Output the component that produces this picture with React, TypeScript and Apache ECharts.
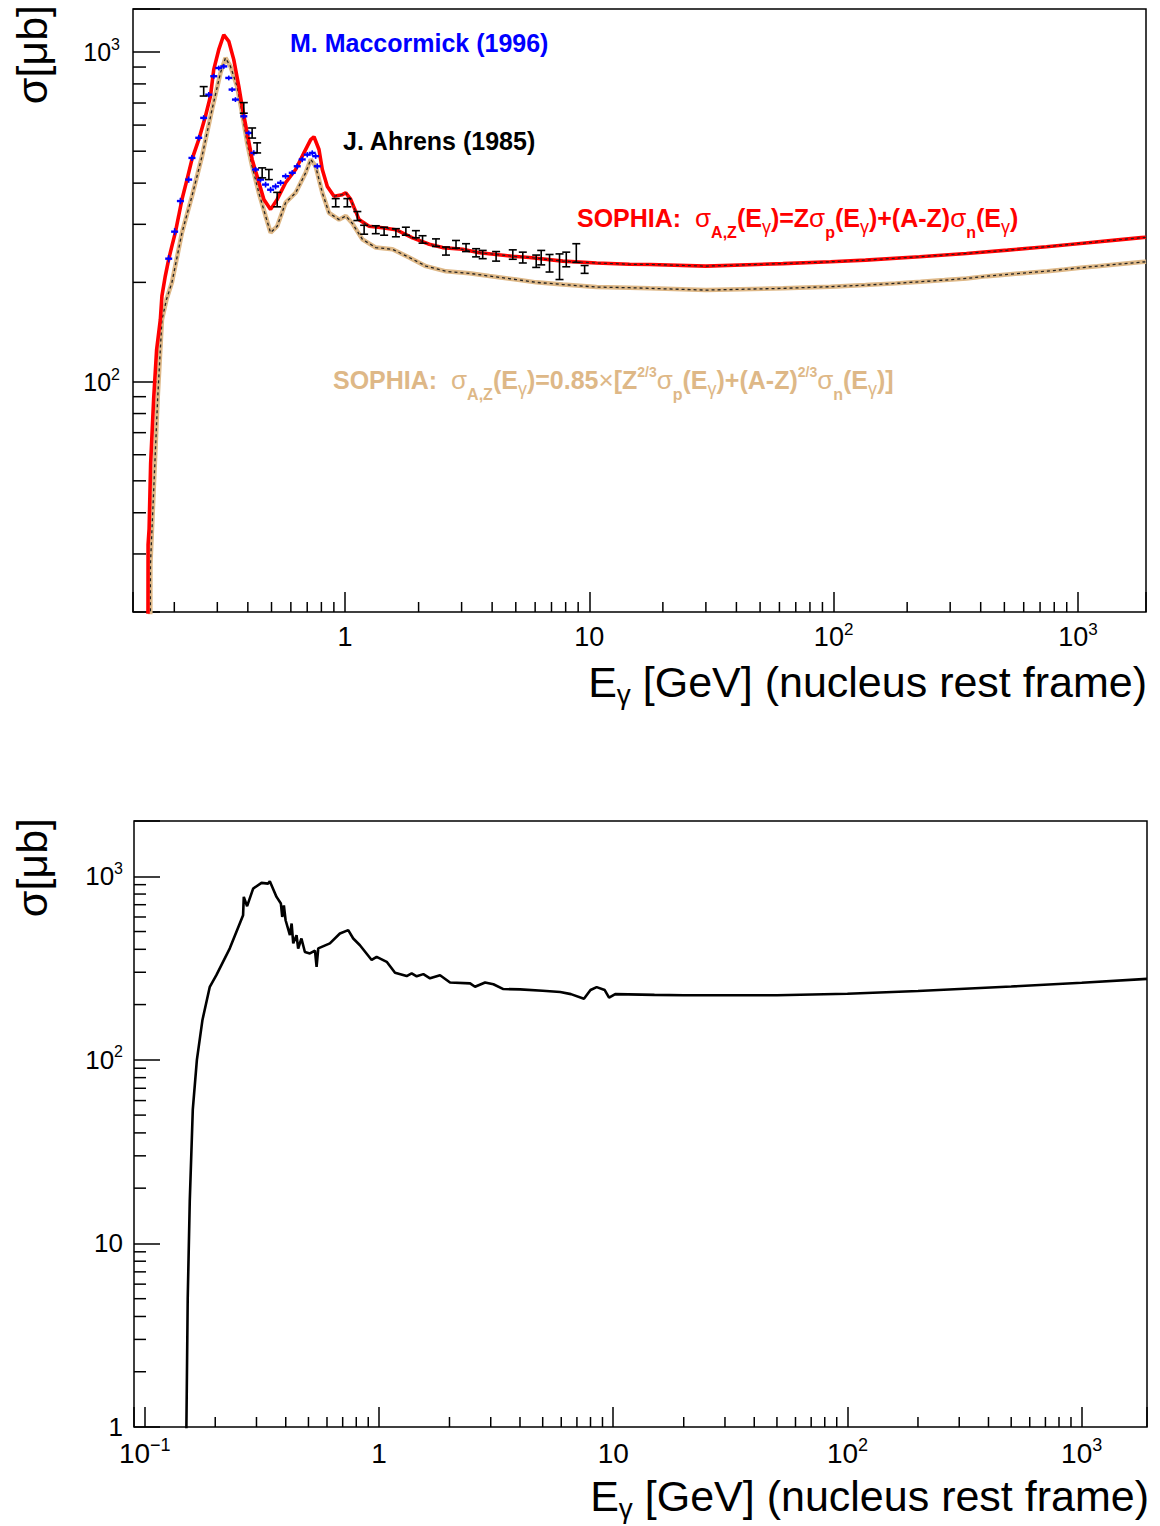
import React, { useEffect, useRef } from 'react';
import * as echarts from 'echarts';

const FONT = '"Liberation Sans", Arial, Helvetica, sans-serif';

// SOPHIA: sigma_{A,Z} = Z sigma_p + (A-Z) sigma_n   [GeV, microbarn]
const redEnergy = [0.156, 0.1562, 0.1577, 0.16, 0.1646, 0.1693, 0.1753, 0.178, 0.1837, 0.1897, 0.1956, 0.2019, 0.2084, 0.215, 0.2254, 0.2362, 0.2518, 0.2682, 0.2812, 0.29, 0.3041, 0.3188, 0.3342, 0.3503, 0.3673, 0.379, 0.3973, 0.4165, 0.4366, 0.4653, 0.4956, 0.5274, 0.5709, 0.6277, 0.6787, 0.7233, 0.746, 0.7821, 0.807, 0.8461, 0.9013, 0.9748, 1.007, 1.055, 1.141, 1.254, 1.422, 1.615, 1.889, 2.212, 2.507, 3.029, 3.547, 4.153, 4.86, 5.69, 7.79, 10.7, 14.6, 17.7, 30, 61.9, 97.2, 135, 224.8, 349.9, 515, 743, 1024, 1424, 1818, 1900];
const redSigma = [15, 32, 35.7, 56.2, 88.4, 125, 154, 182, 209, 235, 258, 283, 318, 357, 410, 472, 542, 638, 734, 884, 1016, 1128, 1077, 948, 787, 684, 568, 472, 420, 357, 333, 357, 401, 440, 494, 542, 553, 506, 440, 391, 365, 369, 374, 357, 310, 296, 293, 289, 273, 261, 255, 252, 246, 243, 240, 238, 232, 229, 227, 226.7, 224, 228, 231, 233.6, 239.2, 244.8, 250.5, 256.6, 262.5, 268.7, 273.3, 274];

// SOPHIA: sigma_{A,Z} = 0.85 x [Z^{2/3} sigma_p + (A-Z)^{2/3} sigma_n]
const tanEnergy = [0.1594, 0.1597, 0.1614, 0.1661, 0.1709, 0.178, 0.186, 0.1956, 0.215, 0.2362, 0.2598, 0.2854, 0.309, 0.3239, 0.3396, 0.3614, 0.379, 0.3973, 0.4165, 0.4437, 0.4727, 0.4956, 0.5274, 0.5709, 0.6277, 0.6899, 0.7233, 0.758, 0.807, 0.8597, 0.9449, 1.007, 1.071, 1.178, 1.336, 1.564, 1.83, 2.143, 2.589, 3.227, 3.898, 5.018, 6.06, 7.79, 10.7, 14.6, 17.7, 30, 62, 97.2, 135, 179.3, 226.9, 284.4, 349.9, 426.6, 515, 627.4, 750, 880.8, 1024, 1202, 1424, 1818, 1900];
const tanSigma = [15, 28, 33.3, 54.2, 88.4, 154, 178, 200, 283, 365, 483, 669, 864, 959, 904, 787, 653, 530, 450, 374, 318, 283, 296, 349, 374, 430, 472, 450, 374, 325, 310, 318, 302, 270, 255, 252, 238, 224, 216, 213, 209, 204, 200, 197, 193.5, 192.7, 191.8, 189.5, 191.8, 194.1, 196.2, 198.6, 200.9, 203.2, 205.6, 208.9, 211.4, 213.9, 216.3, 218.9, 221.5, 224, 226.7, 230.4, 231];

// M. Maccormick (1996)
const maccEnergy = [0.1897, 0.2006, 0.2118, 0.229, 0.2362, 0.2518, 0.2638, 0.2767, 0.29, 0.3041, 0.3188, 0.3342, 0.3448, 0.3559, 0.385, 0.4037, 0.4232, 0.43, 0.4509, 0.4727, 0.4956, 0.5195, 0.5446, 0.5709, 0.6078, 0.6371, 0.6679, 0.7002, 0.734, 0.758, 0.7697];
const maccSigma = [236, 285, 353, 410, 477, 549, 631, 742, 844, 894, 904, 834, 769, 717, 638, 568, 494, 440, 410, 396, 382, 391, 401, 420, 430, 450, 472, 488, 494, 483, 450];
const maccError = [6, 7, 8, 9, 10, 11, 12, 14, 15, 15, 15, 14, 13, 12, 11, 10, 9, 8, 8, 8, 8, 8, 8, 8, 8, 9, 9, 9, 9, 9, 9];

// J. Ahrens (1985)
const ahrensEnergy = [0.2638, 0.385, 0.4165, 0.4366, 0.4578, 0.4877, 0.5274, 0.9157, 1.022, 1.123, 1.197, 1.336, 1.445, 1.615, 1.774, 1.95, 2.076, 2.356, 2.589, 2.846, 3.128, 3.439, 3.66, 4.153, 4.86, 5.341, 6.06, 6.353, 6.873, 7.55, 8.045, 8.844, 9.566];
const ahrensSigma = [760, 677, 568, 512, 430, 425, 357, 349, 349, 318, 289, 289, 286, 283, 286, 280, 270, 264, 249, 261, 255, 246, 243, 240, 243, 238, 232, 238, 229, 224, 235, 246, 219];
const ahrensError = [25, 25, 20, 18, 15, 15, 18, 10, 10, 10, 9, 8, 8, 8, 8, 7, 7, 7, 7, 7, 7, 7, 7, 8, 8, 9, 10, 12, 14, 20, 12, 16, 6];

// lower panel cross section
const lowerEnergy = [0.1505, 0.1526, 0.1557, 0.1604, 0.167, 0.1764, 0.1896, 0.2025, 0.2308, 0.263, 0.2648, 0.2736, 0.2903, 0.3152, 0.3365, 0.342, 0.3654, 0.3813, 0.3864, 0.3927, 0.3994, 0.4167, 0.4238, 0.4306, 0.4448, 0.4519, 0.4667, 0.4828, 0.507, 0.5331, 0.5417, 0.5506, 0.6172, 0.6812, 0.7392, 0.7765, 0.8294, 0.9307, 0.9776, 1.079, 1.171, 1.313, 1.379, 1.449, 1.547, 1.652, 1.823, 2.011, 2.449, 2.571, 2.838, 3.08, 3.397, 4.005, 5.0, 5.94, 6.6, 7.5, 8.0, 8.5, 9.2, 9.6, 10.2, 15, 20, 30, 50, 100, 200, 500, 1000, 1900];
const lowerSigma = [0.9, 5, 17, 53.5, 100, 165, 250, 290, 405, 614, 772, 687, 857, 920, 912, 940, 772, 710, 600, 694, 576, 478, 553, 431, 477, 404, 458, 387, 380, 394, 321, 405, 431, 488, 509, 458, 421, 350, 364, 342, 298, 286, 296, 285, 293, 278, 289, 264, 261, 250, 264, 258, 243, 242, 238, 234, 228, 215, 240, 249, 240, 218, 228, 226, 225, 225, 225, 229, 237, 251, 263, 276];

// axis ranges
const topX = [0.1355, 1900];
const topY = [20, 1350];
const lowX = [0.09, 1900];
const lowY = [1, 2000];

const zip = (a: number[], b: number[]) => a.map((v, i) => [v, b[i]]);
const zip3 = (a: number[], b: number[], c: number[]) => a.map((v, i) => [v, b[i], c[i]]);

const minorValues = (min: number, max: number) => {
  const out: number[] = [];
  for (let k = Math.floor(Math.log10(min)); k <= Math.ceil(Math.log10(max)); k++) {
    for (let m = 2; m <= 9; m++) {
      const v = m * Math.pow(10, k);
      if (v > min * 1.0001 && v < max * 0.9999) out.push(v);
    }
  }
  return out;
};

const powLabel = (v: number) => {
  const lg = Math.log10(v);
  const k = Math.round(lg);
  if (Math.abs(lg - k) > 1e-6) return '';
  if (k === 0) return '{b|1}';
  if (k === 1) return '{b|10}';
  return `{b|10}{s|${k < 0 ? '\u2212' + -k : k}}`;
};

const axis = (grid: number, range: number[], tickLen: number, size: number, margin: number) => ({
  type: 'log',
  logBase: 10,
  gridIndex: grid,
  min: range[0],
  max: range[1],
  axisLine: { show: false },
  axisTick: { show: true, inside: true, length: tickLen, lineStyle: { color: '#000', width: 1.5 } },
  axisLabel: {
    formatter: powLabel,
    margin,
    color: '#000',
    rich: {
      b: { fontSize: size, fontFamily: FONT, color: '#000', lineHeight: size + 3 },
      s: { fontSize: Math.round(size * 0.63), fontFamily: FONT, color: '#000', height: Math.round(size * 0.5), lineHeight: Math.round(size * 0.5), verticalAlign: 'top' },
    },
  },
  splitLine: { show: false },
  minorTick: { show: false },
});

const tickSeries = (grid: number, xr: number[], yr: number[], xLen: number, yLen: number) => ({
  type: 'custom',
  xAxisIndex: grid,
  yAxisIndex: grid,
  silent: true,
  clip: false,
  z: 10,
  data: [
    ...minorValues(xr[0], xr[1]).map((v) => [v, yr[0], 0]),
    ...minorValues(yr[0], yr[1]).map((v) => [xr[0], v, 1]),
  ],
  renderItem: (_p: any, api: any) => {
    const p = api.coord([api.value(0), api.value(1)]);
    const vertical = api.value(2) === 0;
    return {
      type: 'line',
      shape: vertical
        ? { x1: p[0], y1: p[1], x2: p[0], y2: p[1] - xLen }
        : { x1: p[0], y1: p[1], x2: p[0] + yLen, y2: p[1] },
      style: { stroke: '#000', lineWidth: 1.5 },
    };
  },
});

const errorSeries = (data: number[][], color: string, caps: boolean, z: number) => ({
  type: 'custom',
  xAxisIndex: 0,
  yAxisIndex: 0,
  silent: true,
  z,
  data,
  renderItem: (_p: any, api: any) => {
    const e = api.value(0);
    const s = api.value(1);
    const err = api.value(2);
    const c = api.coord([e, s]);
    const lo = api.coord([e, s - err]);
    const hi = api.coord([e, s + err]);
    const st = { stroke: color, lineWidth: 1.6 };
    const children: any[] = [
      { type: 'line', shape: { x1: c[0], y1: lo[1], x2: c[0], y2: hi[1] }, style: st },
    ];
    if (caps) {
      children.push({ type: 'line', shape: { x1: c[0] - 4, y1: lo[1], x2: c[0] + 4, y2: lo[1] }, style: st });
      children.push({ type: 'line', shape: { x1: c[0] - 4, y1: hi[1], x2: c[0] + 4, y2: hi[1] }, style: st });
    } else {
      children.push({ type: 'line', shape: { x1: c[0] - 3.5, y1: c[1], x2: c[0] + 3.5, y2: c[1] }, style: { stroke: color, lineWidth: 2.4 } });
    }
    return { type: 'group', children };
  },
});

// m: main text, g: greek, d: subscript, y: gamma subscript, u: superscript
const formulaRich = (color: string) => ({
  m: { fontSize: 25, fontWeight: 'bold', fontFamily: FONT, fill: color, lineHeight: 30 },
  g: { fontSize: 26, fontWeight: 'normal', fontFamily: FONT, fill: color, lineHeight: 30 },
  d: { fontSize: 16, fontWeight: 'bold', fontFamily: FONT, fill: color, height: 1.6, lineHeight: 1.6, verticalAlign: 'bottom' },
  y: { fontSize: 18, fontWeight: 'normal', fontFamily: FONT, fill: color, height: 12, lineHeight: 12, verticalAlign: 'bottom' },
  u: { fontSize: 14, fontWeight: 'bold', fontFamily: FONT, fill: color, height: 13.7, lineHeight: 13.7, verticalAlign: 'top' },
});

const titleRich = {
  m: { fontSize: 43, fontFamily: FONT, fill: '#000', lineHeight: 48 },
  s: { fontSize: 28, fontFamily: FONT, fill: '#000', height: 23.6, lineHeight: 23.6, verticalAlign: 'bottom' },
};

const xTitle = '{m|E}{s|\u03b3}{m| [GeV] (nucleus rest frame)}';

export default function App() {
  const ref = useRef<HTMLDivElement>(null);

  useEffect(() => {
    if (!ref.current) return;
    const chart = echarts.init(ref.current, undefined, { renderer: 'svg' });

    const redOverlay = zip(redEnergy, redSigma).filter((p) => p[0] >= 0.9);

    chart.setOption({
      animation: false,
      backgroundColor: '#fff',
      grid: [
        { left: 133, top: 9, width: 1013, height: 603, show: true, borderColor: '#000', borderWidth: 1.5, backgroundColor: 'transparent', containLabel: false, outerBoundsMode: 'none' },
        { left: 134, top: 821, width: 1013, height: 606, show: true, borderColor: '#000', borderWidth: 1.5, backgroundColor: 'transparent', containLabel: false, outerBoundsMode: 'none' },
      ],
      xAxis: [axis(0, topX, 20, 27, 10), axis(1, lowX, 20, 28, 11)],
      yAxis: [axis(0, topY, 27, 25, 13), axis(1, lowY, 26, 26, 11)],
      series: [
        { type: 'line', xAxisIndex: 0, yAxisIndex: 0, data: zip(tanEnergy, tanSigma), showSymbol: false, symbol: 'none', z: 2, lineStyle: { color: '#deb887', width: 4.5 }, silent: true },
        { type: 'line', xAxisIndex: 0, yAxisIndex: 0, data: zip(tanEnergy, tanSigma), showSymbol: false, symbol: 'none', z: 3, lineStyle: { color: '#222', width: 1.3, type: [3, 3] }, silent: true },
        { type: 'line', xAxisIndex: 0, yAxisIndex: 0, data: zip(redEnergy, redSigma), showSymbol: false, symbol: 'none', z: 4, lineStyle: { color: '#ff0000', width: 3.6 }, silent: true },
        { type: 'line', xAxisIndex: 0, yAxisIndex: 0, data: redOverlay, showSymbol: false, symbol: 'none', z: 5, lineStyle: { color: '#222', width: 1.2, type: [3, 3] }, silent: true },
        errorSeries(zip3(maccEnergy, maccSigma, maccError), '#0000ff', false, 6),
        errorSeries(zip3(ahrensEnergy, ahrensSigma, ahrensError), '#000000', true, 7),
        tickSeries(0, topX, topY, 10, 13),
        { type: 'line', xAxisIndex: 1, yAxisIndex: 1, data: zip(lowerEnergy, lowerSigma), showSymbol: false, symbol: 'none', z: 4, lineStyle: { color: '#000', width: 2.6 }, silent: true },
        tickSeries(1, lowX, lowY, 10, 12),
      ],
      graphic: [
        { type: 'text', x: 290, y: 43, z: 20, silent: true, style: { text: 'M. Maccormick (1996)', fontSize: 25, fontWeight: 'bold', fontFamily: FONT, fill: '#0000ff', verticalAlign: 'middle' } },
        { type: 'text', x: 343, y: 141, z: 20, silent: true, style: { text: 'J. Ahrens (1985)', fontSize: 25, fontWeight: 'bold', fontFamily: FONT, fill: '#000', verticalAlign: 'middle' } },
        {
          type: 'text', x: 577, y: 218, z: 20, silent: true,
          style: {
            text: '{m|SOPHIA:  }{g|\u03c3}{d|A,Z}{m|(E}{y|\u03b3}{m|)=Z}{g|\u03c3}{d|p}{m|(E}{y|\u03b3}{m|)+(A-Z)}{g|\u03c3}{d|n}{m|(E}{y|\u03b3}{m|)}',
            verticalAlign: 'middle',
            rich: formulaRich('#ff0000'),
          },
        },
        {
          type: 'text', x: 333, y: 380, z: 20, silent: true,
          style: {
            text: '{m|SOPHIA:  }{g|\u03c3}{d|A,Z}{m|(E}{y|\u03b3}{m|)=0.85}{g|\u00d7}{m|[Z}{u|2/3}{g|\u03c3}{d|p}{m|(E}{y|\u03b3}{m|)+(A-Z)}{u|2/3}{g|\u03c3}{d|n}{m|(E}{y|\u03b3}{m|)]}',
            verticalAlign: 'middle',
            rich: formulaRich('#deb887'),
          },
        },
        { type: 'text', x: 1147, y: 682, z: 20, silent: true, style: { text: xTitle, align: 'right', verticalAlign: 'middle', rich: titleRich } },
        { type: 'text', x: 1149, y: 1496, z: 20, silent: true, style: { text: xTitle, align: 'right', verticalAlign: 'middle', rich: titleRich } },
        { type: 'text', x: 32, y: 5, rotation: Math.PI / 2, z: 20, silent: true, style: { text: '\u03c3[\u03bcb]', fontSize: 43, fontFamily: FONT, fill: '#000', align: 'right', verticalAlign: 'middle' } },
        { type: 'text', x: 32, y: 818, rotation: Math.PI / 2, z: 20, silent: true, style: { text: '\u03c3[\u03bcb]', fontSize: 43, fontFamily: FONT, fill: '#000', align: 'right', verticalAlign: 'middle' } },
      ],
    });

    return () => chart.dispose();
  }, []);

  return <div ref={ref} style={{ position: 'absolute', left: 0, top: 0, width: 1160, height: 1526, background: '#fff' }} />;
}
